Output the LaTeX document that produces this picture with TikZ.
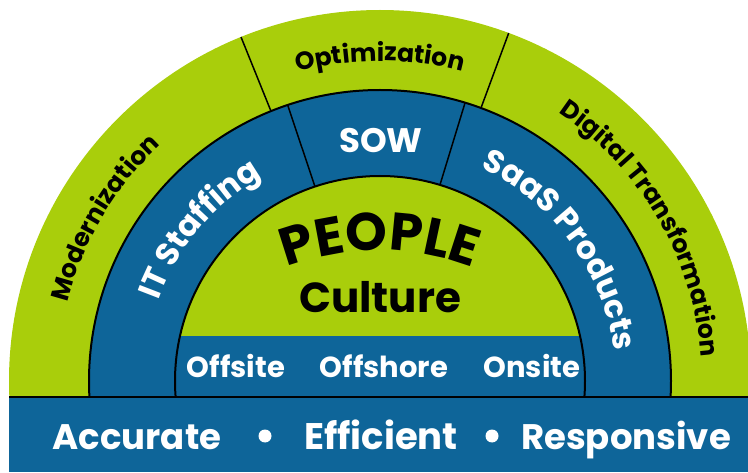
\documentclass[tikz,border=0pt]{standalone}
\usepackage{fontspec}
\setmainfont{Poppins}
\usetikzlibrary{decorations.text}
\definecolor{ringgreen}{RGB}{169,206,11}
\definecolor{ringblue}{RGB}{14,101,153}

\begin{document}
\begin{tikzpicture}[x=1pt, y=1pt, every node/.style={inner sep=0pt},
    ringtext/.style={decorate, decoration={text along path, text align=center, text={#1}}},
    bartext/.style={anchor=base, text=white, font=\bfseries\fontsize{35.5}{36}\selectfont},
    striptext/.style={anchor=base, text=white, font=\bfseries\fontsize{29}{29}\selectfont},
    bullet/.style={circle, fill=white, minimum size=13}]
                \useasboundingbox (0,0) rectangle (748,472);
                \coordinate (hub) at (380,91);
                \coordinate (peoplehub) at (380,-35);

                % Rings above the bar
                \begin{scope}
                    \clip (0,75) rectangle (748,472);
                    \fill[ringgreen] (hub) circle[radius=371];
                    \filldraw[fill=ringblue, draw=black, line width=2] (hub) circle[radius=291];
                    \fill[ringgreen] (hub) circle[radius=205];
                    \begin{scope}
                        \clip (hub) circle[radius=205];
                        \fill[ringblue] (170,75) rectangle (600,136);
                    \end{scope}
                    \draw[black, line width=2] (hub) circle[radius=205];
                \end{scope}

                % Dividers
                \draw[line width=1.5] ([shift={(112:291)}]hub) -- ([shift={(112:371)}]hub);
                \draw[line width=1.5] ([shift={(69.7:291)}]hub) -- ([shift={(69.7:371)}]hub);
                \draw[line width=1.5] ([shift={(108.5:205)}]hub) -- ([shift={(108.5:291)}]hub);
                \draw[line width=1.5] ([shift={(73:205)}]hub) -- ([shift={(73:291)}]hub);

                % Outer ring labels
                \path[ringtext={|\bfseries\fontsize{25}{25}\selectfont|Modernization}]
                    ([shift={(189.4:322)}]hub) arc[start angle=189.4, end angle=109.4, radius=322];
                \path[ringtext={|\bfseries\fontsize{25}{25}\selectfont|Optimization}]
                    ([shift={(130:320)}]hub) arc[start angle=130, end angle=50, radius=320];
                \path[ringtext={|\bfseries\fontsize{25}{25}\selectfont|Digital Transformation}]
                    ([shift={(70.3:322)}]hub) arc[start angle=70.3, end angle=-9.7, radius=322];

                % Inner ring labels
                \path[ringtext={|\color{white}\bfseries\fontsize{32}{32}\selectfont|IT Staffing}]
                    ([shift={(180:236)}]hub) arc[start angle=180, end angle=100, radius=236];
                \path[ringtext={|\color{white}\bfseries\fontsize{32}{32}\selectfont|SaaS Products}]
                    ([shift={(76:236)}]hub) arc[start angle=76, end angle=-4, radius=236];
                \node[anchor=base, text=white, font=\bfseries\fontsize{34}{34}\selectfont] (sow) at (381,319) {SOW};

                % Centre
                \path[ringtext={|\bfseries\fontsize{53}{53}\selectfont|PEOPLE}]
                    ([shift={(130:257)}]peoplehub) arc[start angle=130, end angle=50, radius=257];
                \node[anchor=base, font=\bfseries\fontsize{42}{42}\selectfont] (culture) at (380,159) {Culture};
                \node[striptext] (offsite) at (236,94) {Offsite};
                \node[striptext] (offshore) at (384,94) {Offshore};
                \node[striptext] (onsite) at (532,94) {Onsite};

                % Bottom bar
                \fill[ringblue] (9,0) rectangle (748,75);
                \draw[line width=1.5] (9,75) -- (748,75);
                \node[bartext] (accurate) at (137,23) {Accurate};
                \node[bullet] (dotA) at (265,36) {};
                \node[bartext, font=\bfseries\fontsize{37}{37}\selectfont] (efficient) at (381,23) {Efficient};
                \node[bullet] (dotB) at (492,36) {};
                \node[bartext] (responsive) at (626,23) {Responsive};
            \end{tikzpicture}
\end{document}
